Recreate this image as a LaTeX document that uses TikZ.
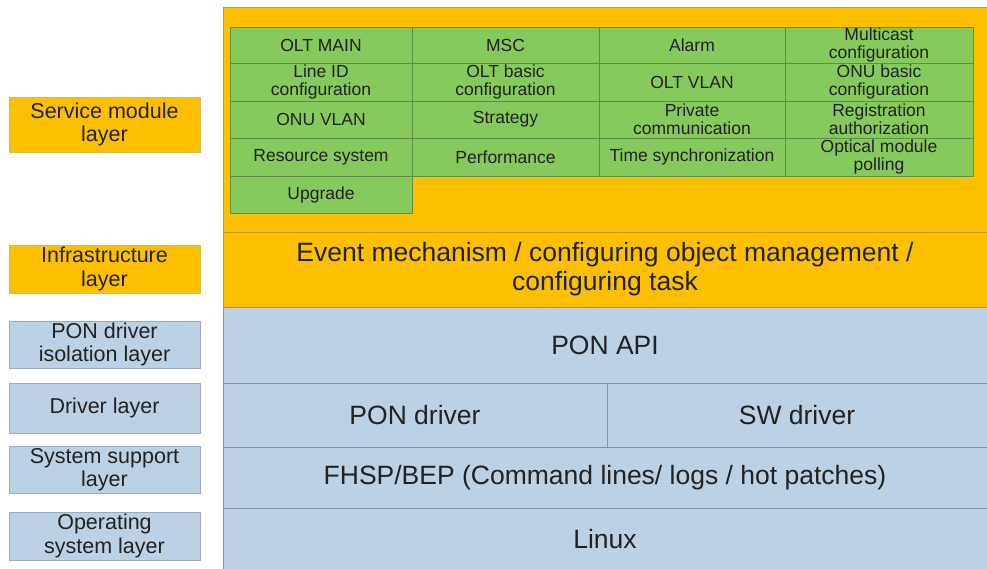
\documentclass[tikz,border=0pt]{standalone}
\usepackage{fontspec}
\setmainfont{Liberation Sans}
\definecolor{gold}{HTML}{FDC000}
\definecolor{golddark}{HTML}{C89A10}
\definecolor{leaf}{HTML}{86C95C}
\definecolor{leafdark}{HTML}{5F8F45}
\definecolor{sky}{HTML}{BDD1E5}
\definecolor{skydark}{HTML}{8296AA}
\definecolor{ink}{HTML}{222222}
\tikzset{
  base/.style={rectangle, inner sep=0pt, align=center, text=ink, line width=0.8pt},
  module/.style={base, fill=leaf, draw=leafdark,
    font=\fontsize{17.5}{18}\selectfont},
  goldband/.style={base, fill=gold, draw=golddark,
    font=\fontsize{26.5}{29}\selectfont},
  skyband/.style={base, fill=sky, draw=skydark,
    font=\fontsize{26.5}{29}\selectfont},
  goldtag/.style={base, fill=gold, draw=golddark!70,
    minimum width=191pt, font=\fontsize{21.5}{23.5}\selectfont},
  skytag/.style={base, fill=sky, draw=skydark!80,
    minimum width=191pt, font=\fontsize{21.5}{23.5}\selectfont},
}
\begin{document}
\begin{tikzpicture}[x=1pt, y=-1pt]
\useasboundingbox (0,0) rectangle (987,569);
\fill[white] (0,0) rectangle (987,569);

% layer stack
\node[goldband, minimum width=764pt, minimum height=225pt] (service) at (605,119.5) {};
\node[goldband, minimum width=764pt, minimum height=75pt] (infra) at (605,269.5)
  {Event mechanism / configuring object management /\\configuring task};
\node[skyband, minimum width=764pt, minimum height=76pt] (ponapi) at (605,345) {PON API};
\node[skyband, minimum width=384pt, minimum height=64pt] (pondrv) at (415,415) {PON driver};
\node[skyband, minimum width=380pt, minimum height=64pt] (swdrv) at (797,415) {SW driver};
\node[skyband, minimum width=764pt, minimum height=61pt] (fhsp) at (605,477.5)
  {FHSP/BEP (Command lines/ logs / hot patches)};
\node[skyband, minimum width=764pt, minimum height=62pt] (linux) at (605,539) {Linux};

% service modules
\node[module, minimum width=182pt, minimum height=36pt] (m11) at (321,45) {OLT MAIN};
\node[module, minimum width=187pt, minimum height=36pt] (m12) at (505.5,45) {MSC};
\node[module, minimum width=186pt, minimum height=36pt] (m13) at (692,45) {Alarm};
\node[module, minimum width=188pt, minimum height=36pt] (m14) at (879,45) {Multicast\\configuration};
\node[module, minimum width=182pt, minimum height=38pt] (m21) at (321,82) {Line ID\\configuration};
\node[module, minimum width=187pt, minimum height=38pt] (m22) at (505.5,82) {OLT basic\\configuration};
\node[module, minimum width=186pt, minimum height=38pt] (m23) at (692,82) {OLT VLAN};
\node[module, minimum width=188pt, minimum height=38pt] (m24) at (879,82) {ONU basic\\configuration};
\node[module, minimum width=182pt, minimum height=37pt] (m31) at (321,119.5) {ONU VLAN};
\node[module, minimum width=187pt, minimum height=37pt] (m32) at (505.5,119.5) {Strategy};
\node[module, minimum width=186pt, minimum height=37pt] (m33) at (692,119.5) {Private\\communication};
\node[module, minimum width=188pt, minimum height=37pt] (m34) at (879,119.5) {Registration\\authorization};
\node[module, minimum width=182pt, minimum height=38pt] (m41) at (321,157) {Resource system};
\node[module, minimum width=187pt, minimum height=38pt] (m42) at (505.5,157) {Performance};
\node[module, minimum width=186pt, minimum height=38pt] (m43) at (692,157) {Time synchronization};
\node[module, minimum width=188pt, minimum height=38pt] (m44) at (879,157) {Optical module\\polling};
\node[module, minimum width=182pt, minimum height=37pt] (m51) at (321,194.5) {Upgrade};

% layer names
\node[goldtag, minimum height=55pt] (tservice) at (104.5,124.5) {Service module\\layer};
\node[goldtag, minimum height=48pt] (tinfra) at (104.5,269) {Infrastructure\\layer};
\node[skytag, minimum height=47pt] (tiso) at (104.5,344.5) {PON driver\\isolation layer};
\node[skytag, minimum height=50pt] (tdrv) at (104.5,408) {Driver layer};
\node[skytag, minimum height=47pt] (tsys) at (104.5,469.5) {System support\\layer};
\node[skytag, minimum height=48pt] (tos) at (104.5,536) {Operating\\system layer};
\end{tikzpicture}
\end{document}
